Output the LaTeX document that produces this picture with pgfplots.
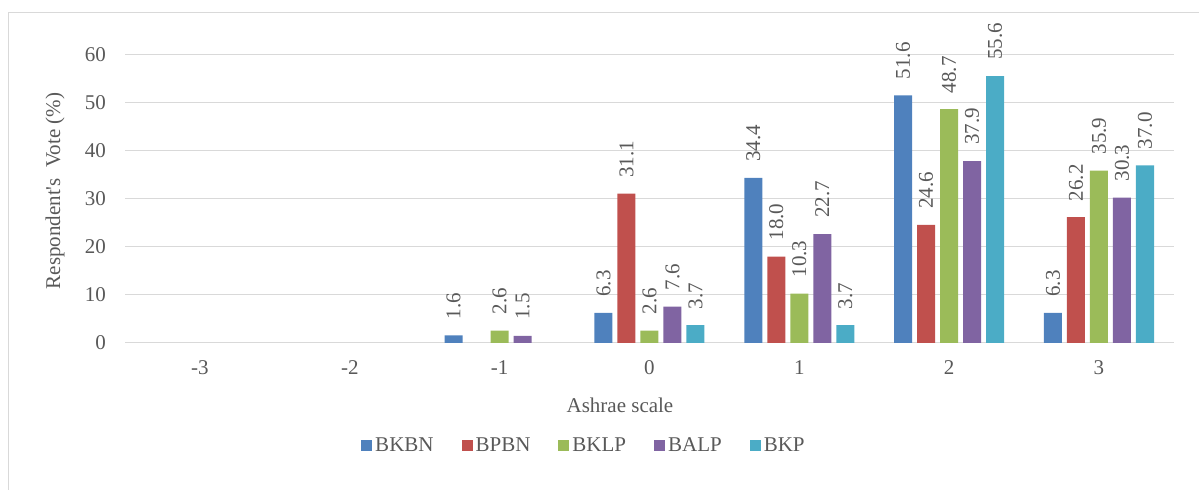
\documentclass[border=0pt]{standalone}
\usepackage{pgfplots}
\pgfplotsset{compat=1.18}
\usepackage{fontspec}
\setmainfont{Liberation Serif}
\newfontfamily\rawserif{Liberation Serif}
\definecolor{cA}{HTML}{4F81BD}
\definecolor{cB}{HTML}{C0504D}
\definecolor{cC}{HTML}{9BBB59}
\definecolor{cD}{HTML}{8064A2}
\definecolor{cE}{HTML}{4BACC6}
\definecolor{txt}{HTML}{595959}
\definecolor{gridc}{HTML}{D9D9D9}
\newcommand{\ff}{\fontsize{21bp}{25bp}\selectfont}
\begin{document}
\ff
\begin{tikzpicture}[font=\ff]
\path[use as bounding box] (0bp,0bp) rectangle (1199bp,490bp);
\draw[gridc, line width=1bp] (8.5bp,0bp) -- (8.5bp,477.8bp) -- (1199bp,477.8bp);
\begin{axis}[
  at={(125bp,147bp)}, anchor=south west,
  scale only axis, width=1049bp, height=288bp,
  xmin=-3.5, xmax=3.5, ymin=0, ymax=60,
  xtick={-3,-2,-1,0,1,2,3},
  xticklabels={-3,-2,-1,0,1,2,3},
  ytick={0,10,20,30,40,50,60},
  ybar=5bp, bar width=18bp,
  axis line style={draw=none},
  major tick length=0pt,
  ymajorgrids, grid style={color=gridc, line width=1bp},
  /pgf/number format/assume math mode=true,
  tick label style={font=\ff, text=txt},
  yticklabel style={anchor=east, inner sep=0pt, xshift=-19bp},
  xticklabel style={anchor=base, inner sep=0pt, yshift=-32bp},
  xlabel={Ashrae scale},
  xlabel style={at={(axis description cs:0.4719,0)}, anchor=base, inner sep=0pt, yshift=-69bp, text=txt, font=\ff},
  ylabel={{\rawserif Respondent's~ Vote (\%)}},
  ylabel style={at={(axis description cs:-0.0667,0.528)}, anchor=center, inner sep=0pt, text=txt, font=\ff},
  legend style={at={(axis description cs:0.4366,-0.3576)}, anchor=center, draw=none, fill=none,
    font=\ff, text=txt, legend columns=5,
    nodes={inner sep=0pt},
    /tikz/every even column/.append style={column sep=28bp},
    /tikz/every odd column/.append style={column sep=3bp}},
  legend cell align=left,
  legend image code/.code={\fill[#1] (0bp,-5.5bp) rectangle (11bp,5.5bp);},
  nodes near coords={\pgfmathprintnumber[fixed,fixed zerofill,precision=1,assume math mode=true]{\pgfplotspointmeta}},
  every node near coord/.append style={font=\ff, text=txt, rotate=90, anchor=west, inner sep=0pt, xshift=16bp},
]
\addplot[fill=cA, draw=none] coordinates {(-1,1.6) (0,6.3) (1,34.4) (2,51.6) (3,6.3)};
\addplot[fill=cB, draw=none] coordinates {(0,31.1) (1,18.0) (2,24.6) (3,26.2)};
\addplot[fill=cC, draw=none] coordinates {(-1,2.6) (0,2.6) (1,10.3) (2,48.7) (3,35.9)};
\addplot[fill=cD, draw=none] coordinates {(-1,1.5) (0,7.6) (1,22.7) (2,37.9) (3,30.3)};
\addplot[fill=cE, draw=none] coordinates {(0,3.7) (1,3.7) (2,55.6) (3,37.0)};
\legend{BKBN,BPBN,BKLP,BALP,BKP}
\end{axis}
\end{tikzpicture}
\end{document}
